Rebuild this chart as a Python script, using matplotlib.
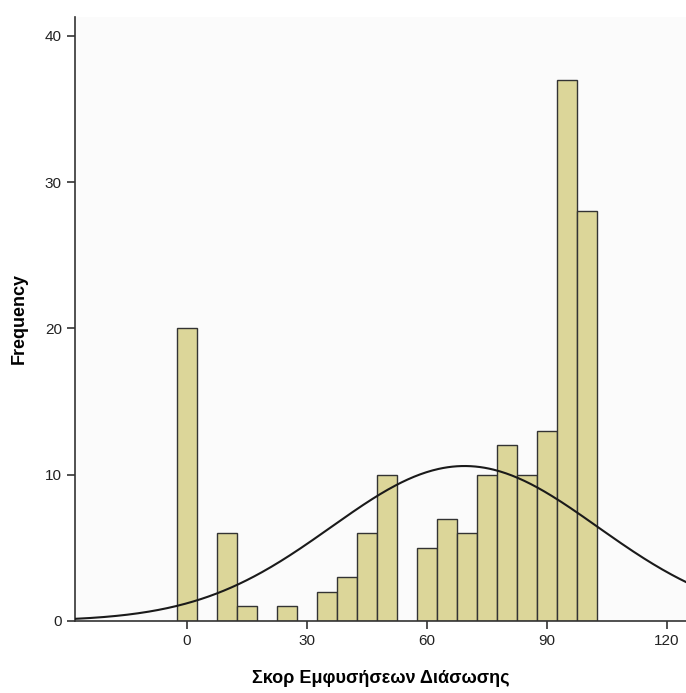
import numpy as np
import matplotlib.pyplot as plt

plt.rcParams['font.family'] = ['Liberation Sans', 'DejaVu Sans']

# bin centres (width 5) and counts
bin_centers = [0, 10, 15, 25, 35, 40, 45, 50, 60, 65, 70, 75, 80, 85, 90, 95, 100]
counts = [20, 6, 1, 1, 2, 3, 6, 10, 5, 7, 6, 10, 12, 10, 13, 37, 28]
bin_width = 5
x_ticks = [0, 30, 60, 90, 120]
y_ticks = [0, 10, 20, 30, 40]

centers = np.array(bin_centers, dtype=float)
n = np.array(counts, dtype=float)
N = n.sum()
mean = (centers * n).sum() / N
sd = np.sqrt(((centers - mean) ** 2 * n).sum() / (N - 1))

fig = plt.figure(figsize=(6.86, 6.93), dpi=100)
ax = fig.add_axes([0.1093, 0.1039, 0.8907, 0.8716])
ax.set_facecolor('#fbfbfb')

ax.bar(centers, n, width=bin_width, color='#dcd699', edgecolor='#333333',
       linewidth=1.0, zorder=2)

xs = np.linspace(-28, 125, 400)
ys = N * bin_width / (sd * np.sqrt(2 * np.pi)) * np.exp(-0.5 * ((xs - mean) / sd) ** 2)
ax.plot(xs, ys, color='#1a1a1a', linewidth=1.5, zorder=3)

ax.set_xlim(-28, 124.75)
ax.set_ylim(0, 41.3)
ax.set_xticks(x_ticks)
ax.set_yticks(y_ticks)
for s in ['top', 'right']:
    ax.spines[s].set_visible(False)
for s in ['left', 'bottom']:
    ax.spines[s].set_color('#333333')
    ax.spines[s].set_linewidth(1.2)
ax.tick_params(direction='out', length=6, width=1.2, color='#333333',
               labelsize=11, labelcolor='#222222')

ax.set_xlabel('Σκορ Εμφυσήσεων Διάσωσης', fontsize=13, fontweight='bold',
              labelpad=16)
ax.set_ylabel('Frequency', fontsize=13, fontweight='bold', labelpad=12)

fig.savefig('out.png', dpi=100)
